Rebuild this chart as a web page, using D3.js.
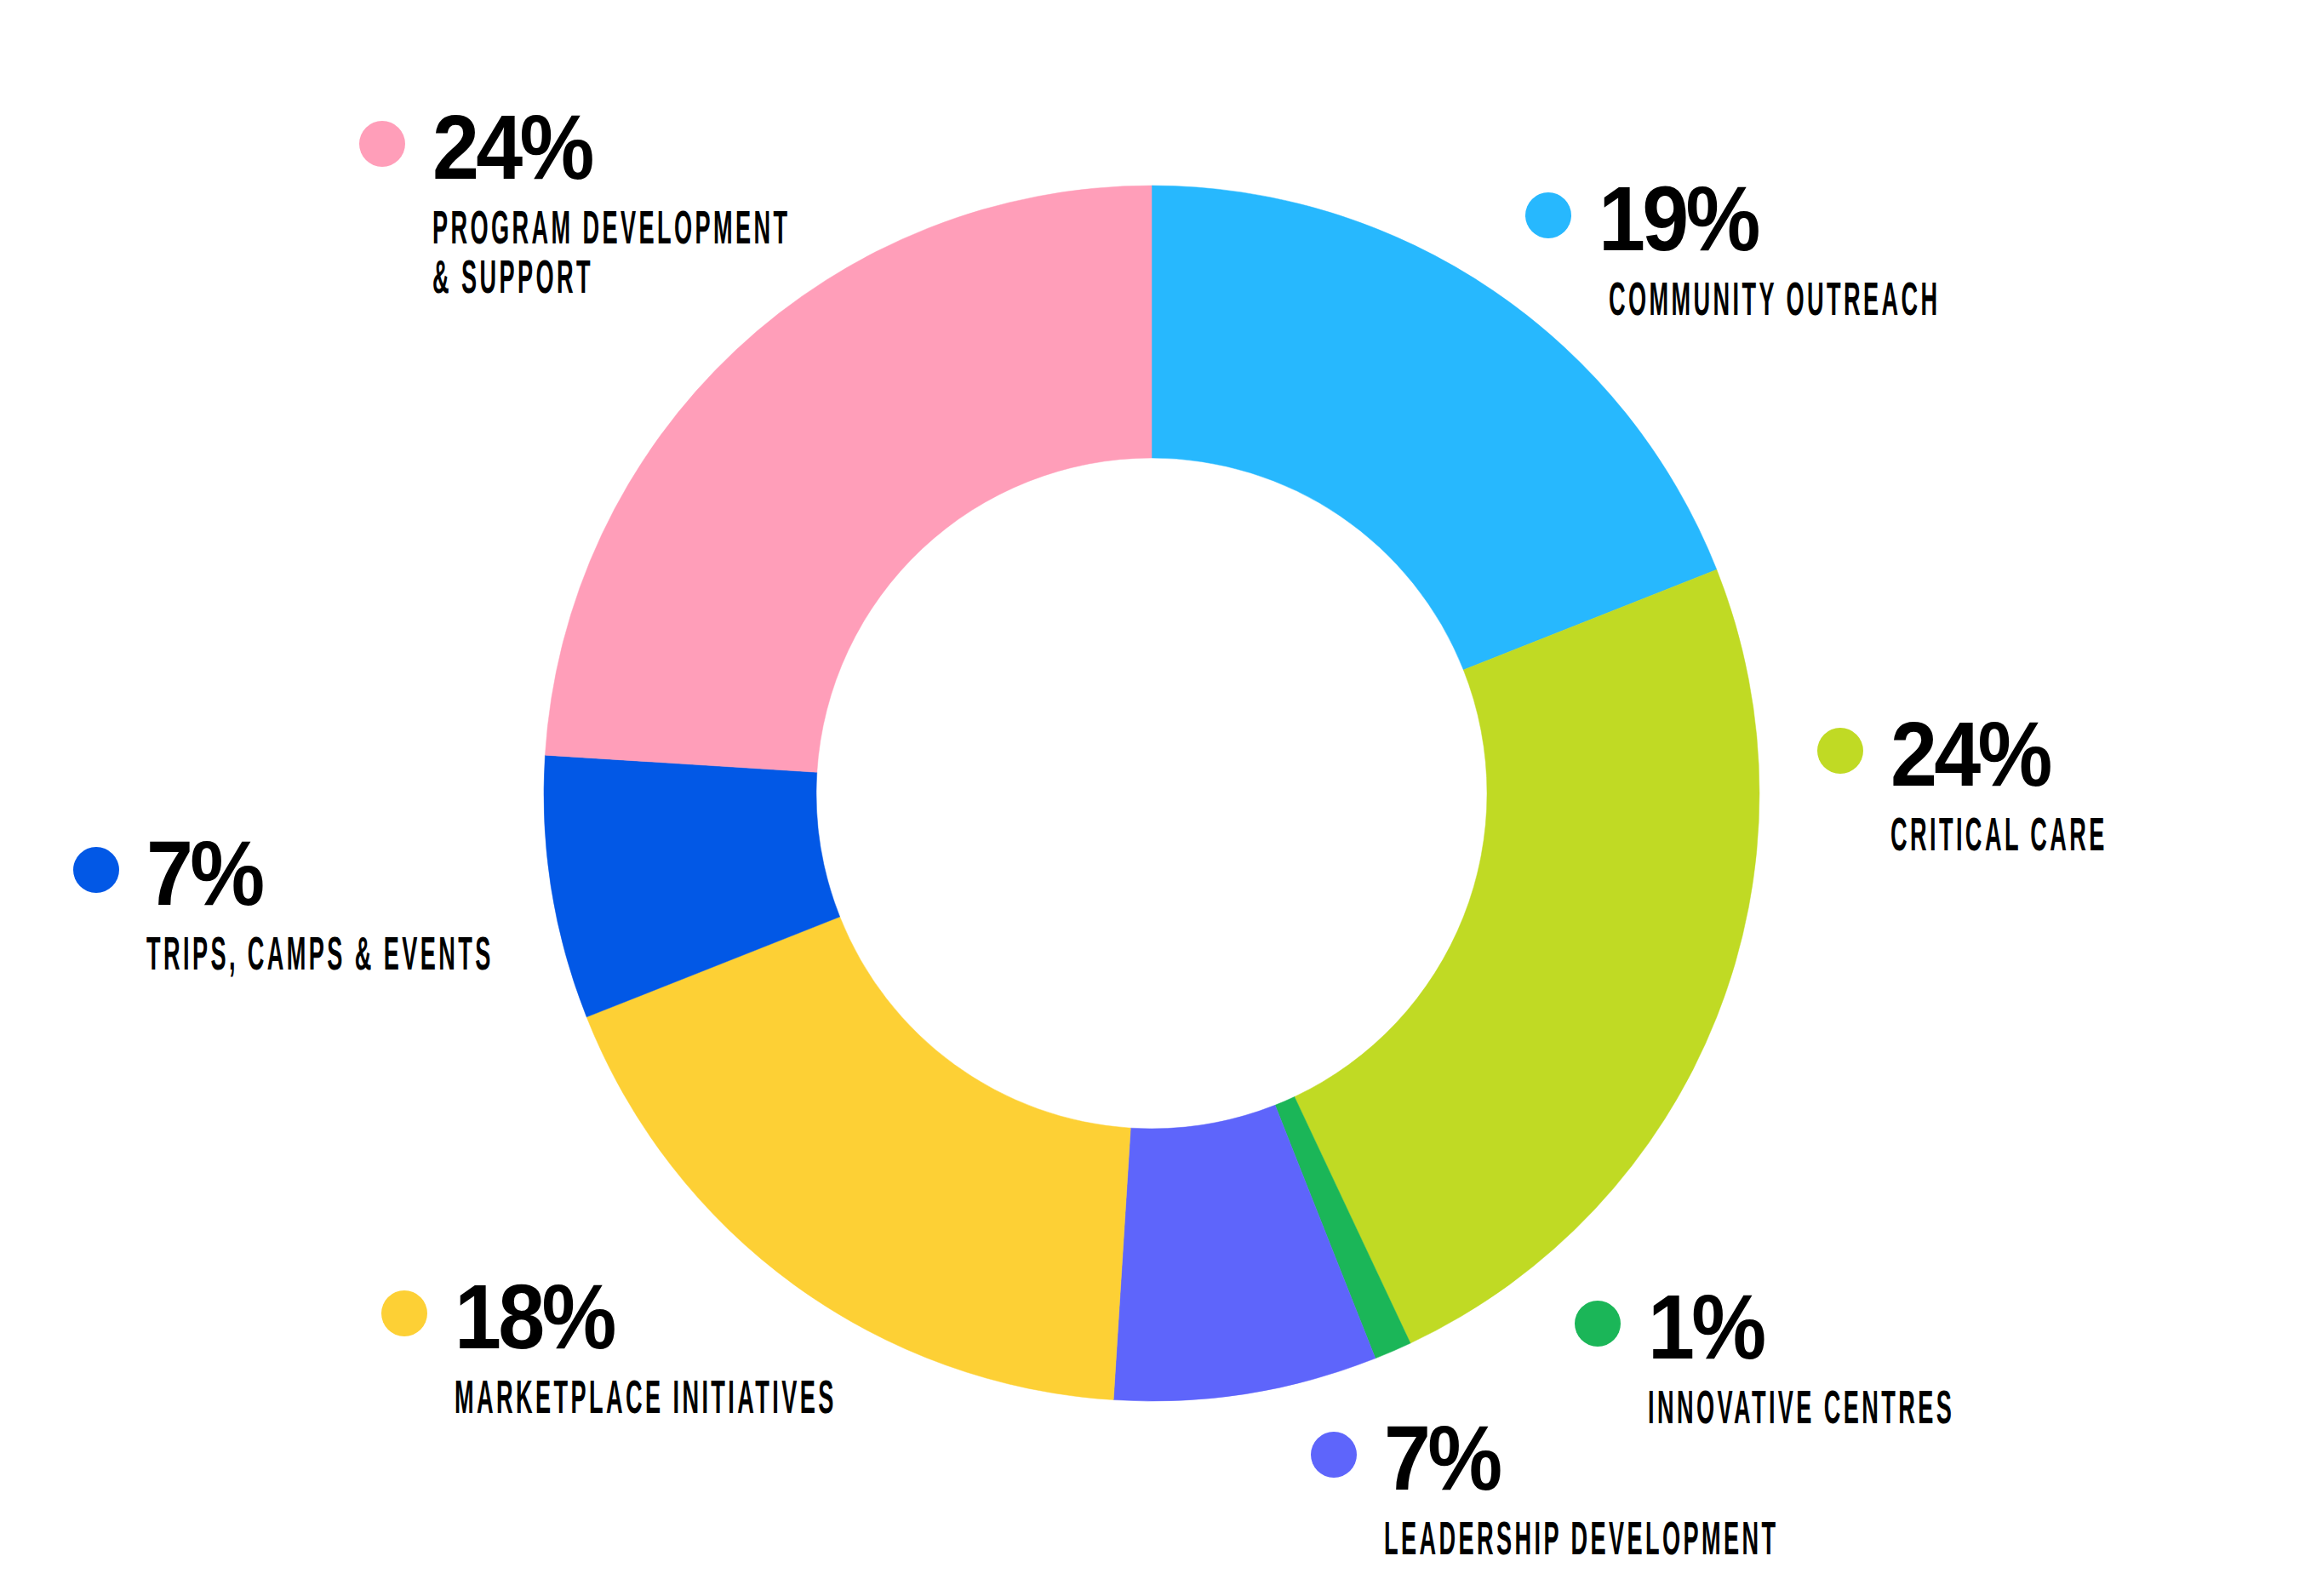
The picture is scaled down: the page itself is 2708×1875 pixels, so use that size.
<!DOCTYPE html>
<html>
<head>
<meta charset="utf-8">
<script src="https://cdn.jsdelivr.net/npm/d3@7"></script>
<style>
  body { margin: 0; background: #fff; }
  .pct { font-family: "Liberation Sans", Arial, sans-serif; font-weight: 700; }
  .lbl { font-family: "Liberation Sans Narrow", "Liberation Sans", sans-serif; font-weight: 700; }
</style>
</head>
<body>
<div id="chart"></div>
<script>
var width = 2708, height = 1875;

// slices, clockwise from 12 o'clock
var categories = ["COMMUNITY OUTREACH", "CRITICAL CARE", "INNOVATIVE CENTRES", "LEADERSHIP DEVELOPMENT",
                  "MARKETPLACE INITIATIVES", "TRIPS, CAMPS & EVENTS", "PROGRAM DEVELOPMENT & SUPPORT"]
var values = [19, 24, 1, 7, 18, 7, 24]
var labelLines = [["COMMUNITY OUTREACH"], ["CRITICAL CARE"], ["INNOVATIVE CENTRES"], ["LEADERSHIP DEVELOPMENT"],
                  ["MARKETPLACE INITIATIVES"], ["TRIPS, CAMPS & EVENTS"], ["PROGRAM DEVELOPMENT", "& SUPPORT"]]
var colors = ["#27B8FE", "#C0DA24", "#1BB658", "#5E65FB", "#FDD035", "#0258E6", "#FF9EB9"]

// where each legend dot sits, plus a small label nudge
var legendAt = [[1819, 253], [2162, 882], [1877, 1555], [1567, 1709], [475, 1543], [113, 1022], [449, 169]]
var labelNudge = [12, 0, 0, 0, 0, 0, 0]

var cx = 1353, cy = 932, outerR = 714, innerR = 394

var svg = d3.select("#chart")
  .append("svg")
  .attr("width", width)
  .attr("height", height)

var pie = d3.pie().sort(null).value(function(d) { return d })
var arc = d3.arc().innerRadius(innerR).outerRadius(outerR)

svg.append("g")
  .attr("transform", "translate(" + cx + "," + cy + ")")
  .selectAll("path")
  .data(pie(values))
  .enter().append("path")
  .attr("d", arc)
  .attr("fill", function(d, i) { return colors[i] })
  .attr("stroke", function(d, i) { return colors[i] })
  .attr("stroke-width", 0.5)

var legend = svg.selectAll(".legend")
  .data(values)
  .enter().append("g")
  .attr("class", "legend")
  .attr("transform", function(d, i) { return "translate(" + legendAt[i][0] + "," + legendAt[i][1] + ")" })

legend.append("circle")
  .attr("r", 27)
  .attr("fill", function(d, i) { return colors[i] })

legend.append("text")
  .attr("class", "pct")
  .attr("transform", "translate(59,41) scale(0.915,1)")
  .attr("font-size", 108)
  .attr("letter-spacing", -4)
  .attr("fill", "#000")
  .text(function(d) { return d + "%" })

legend.each(function(d, i) {
  var g = d3.select(this)
  labelLines[i].forEach(function(line, k) {
    g.append("text")
      .attr("class", "lbl")
      .attr("transform", "translate(" + (59 + labelNudge[i]) + "," + (117 + k * 58) + ") scale(0.485,1)")
      .attr("font-size", 56)
      .attr("letter-spacing", 7)
      .attr("fill", "#000")
      .text(line)
  })
})
</script>
</body>
</html>
